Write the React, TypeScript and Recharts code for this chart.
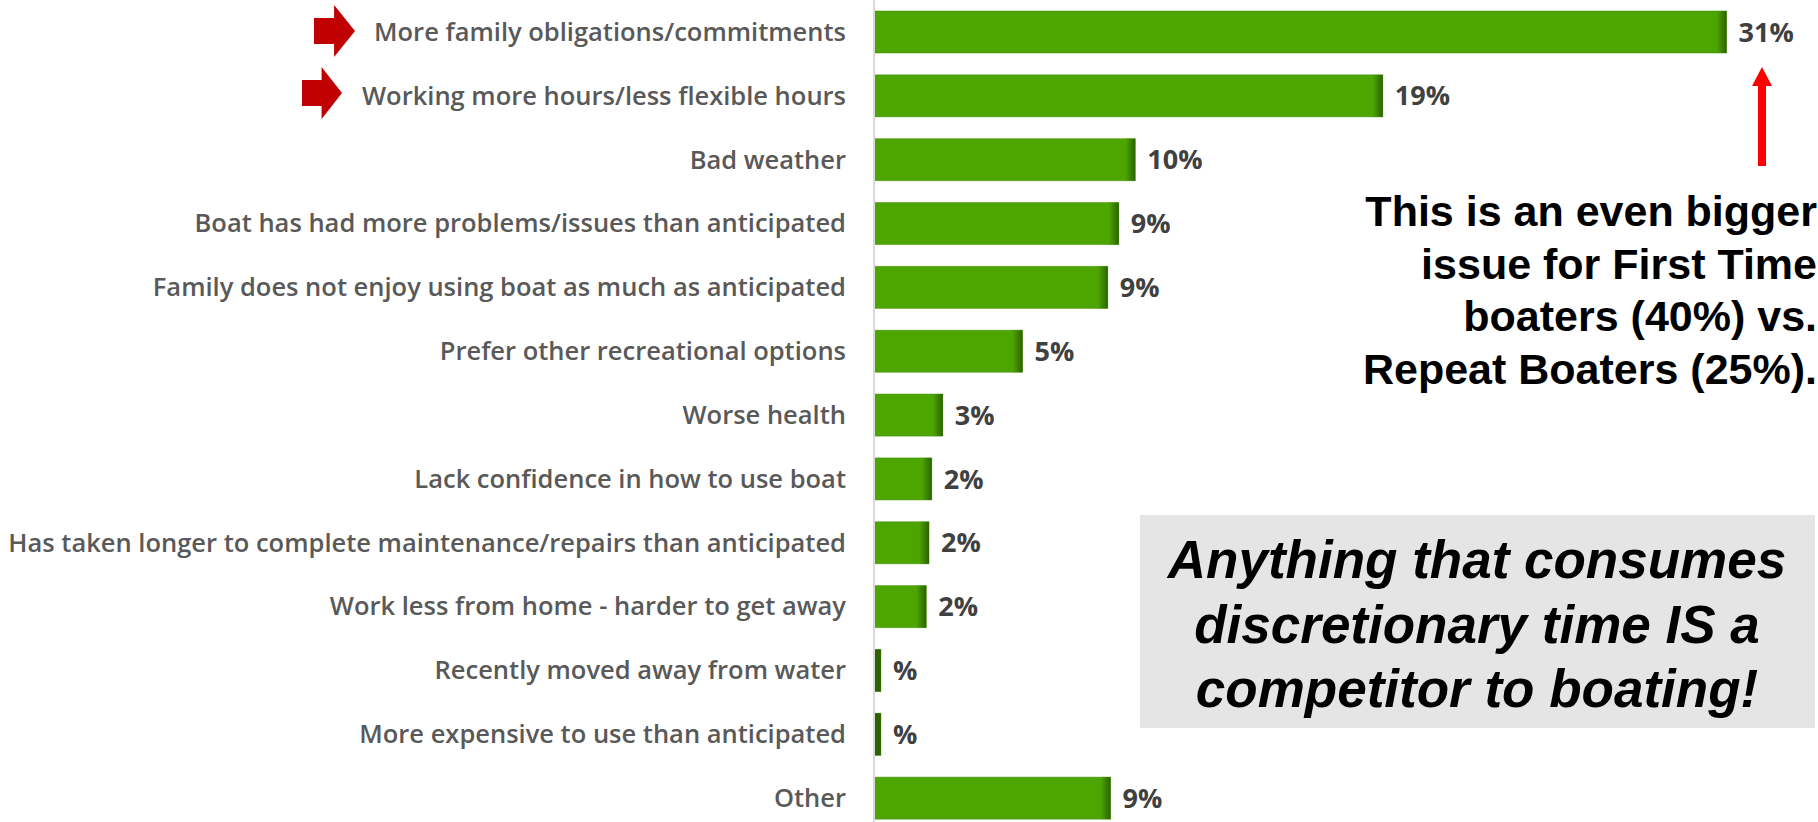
import { BarChart, Bar, XAxis, YAxis, LabelList } from 'recharts';

const categories = [
  'More family obligations/commitments',
  'Working more hours/less flexible hours',
  'Bad weather',
  'Boat has had more problems/issues than anticipated',
  'Family does not enjoy using boat as much as anticipated',
  'Prefer other recreational options',
  'Worse health',
  'Lack confidence in how to use boat',
  'Has taken longer to complete maintenance/repairs than anticipated',
  'Work less from home - harder to get away',
  'Recently moved away from water',
  'More expensive to use than anticipated',
  'Other',
];

const values = [31, 18.5, 9.5, 8.9, 8.5, 5.4, 2.5, 2.1, 2.0, 1.9, 0.25, 0.25, 8.6];

const valueLabels = ['31%', '19%', '10%', '9%', '9%', '5%', '3%', '2%', '2%', '2%', '%', '%', '9%'];

const calloutLines = [
  'This is an even bigger',
  'issue for First Time',
  'boaters (40%) vs.',
  'Repeat Boaters (25%).',
];

const boxLines = ['Anything that consumes', 'discretionary time IS a', 'competitor to boating!'];

const data = categories.map((name, i) => ({ name, value: values[i], label: valueLabels[i] }));

const GREEN = '#4DA600';

function GreenBar(props: any) {
  const { x, y, width, height } = props;
  if (!width || width <= 0) return null;
  const edge = Math.min(10, width);
  return (
    <g>
      <rect x={x} y={y} width={width} height={height} fill={GREEN} />
      <rect x={x} y={y} width={width} height={height} fill="none" stroke="#3E8A00" strokeOpacity={0.5} strokeWidth={1} />
      <rect x={x + width - edge} y={y} width={edge} height={height} fill={width < 12 ? '#2E6200' : 'url(#barEdge)'} />
    </g>
  );
}

function CategoryTick(props: any) {
  const { x, y, payload } = props;
  return (
    <text
      x={x}
      y={y}
      dy="0.35em"
      textAnchor="end"
      fill="#595959"
      fontSize={25.5}
      fontWeight={600}
      fontFamily="'Open Sans', sans-serif"
    >
      {payload.value}
    </text>
  );
}

function BlockArrow({ x, y, w, h }: { x: number; y: number; w: number; h: number }) {
  const head = x + w * 0.49;
  const s1 = y + h * 0.25;
  const s2 = y + h * 0.75;
  return (
    <polygon
      points={`${x},${s1} ${head},${s1} ${head},${y} ${x + w},${y + h / 2} ${head},${y + h} ${head},${s2} ${x},${s2}`}
      fill="#C00000"
    />
  );
}

export default function App() {
  return (
    <div style={{ position: 'absolute', left: 0, top: 0, width: 1818, height: 822, overflow: 'hidden', background: '#fff' }}>
      <BarChart
        layout="vertical"
        width={1818}
        height={830}
        data={data}
        margin={{ top: 0, right: 9, bottom: 0, left: 0 }}
      >
        <defs>
          <linearGradient id="barEdge" x1="0" x2="1" y1="0" y2="0">
            <stop offset="0%" stopColor={GREEN} />
            <stop offset="100%" stopColor="#2C6200" />
          </linearGradient>
        </defs>
        <XAxis type="number" hide domain={[0, 34]} />
        <YAxis
          type="category"
          dataKey="name"
          width={874}
          axisLine={{ stroke: '#D9D9D9', strokeWidth: 2 }}
          tickLine={false}
          tickSize={6}
          tickMargin={22}
          tick={<CategoryTick />}
          interval={0}
        />
        <Bar dataKey="value" barSize={42} shape={<GreenBar />} isAnimationActive={false}>
          <LabelList
            dataKey="label"
            position="right"
            offset={12}
            fill="#404040"
            fontSize={27}
            fontWeight={700}
            fontFamily="'Open Sans', sans-serif"
          />
        </Bar>
      </BarChart>

      <svg
        width={1818}
        height={822}
        style={{ position: 'absolute', left: 0, top: 0, pointerEvents: 'none' }}
      >
        <BlockArrow x={314} y={5} w={41} h={52} />
        <BlockArrow x={302} y={67} w={40} h={52} />

        {/* red up arrow under the 31% label */}
        <polygon points="1762,67 1772,86 1766,86 1766,166 1758,166 1758,86 1752,86" fill="#FF0000" />

        {calloutLines.map((line, i) => (
          <text
            key={line}
            x={1817}
            y={226 + i * 52.5}
            textAnchor="end"
            fontFamily="'Liberation Sans', Arial, sans-serif"
            fontWeight={700}
            fontSize={43}
            fill="#000"
          >
            {line}
          </text>
        ))}

        <rect x={1140} y={515} width={675} height={213} fill="#E5E5E5" />
        {boxLines.map((line, i) => (
          <text
            key={line}
            x={1477}
            y={578 + i * 64.5}
            textAnchor="middle"
            fontFamily="'Liberation Sans', Arial, sans-serif"
            fontWeight={700}
            fontStyle="italic"
            fontSize={53}
            fill="#000"
          >
            {line}
          </text>
        ))}
      </svg>
    </div>
  );
}
